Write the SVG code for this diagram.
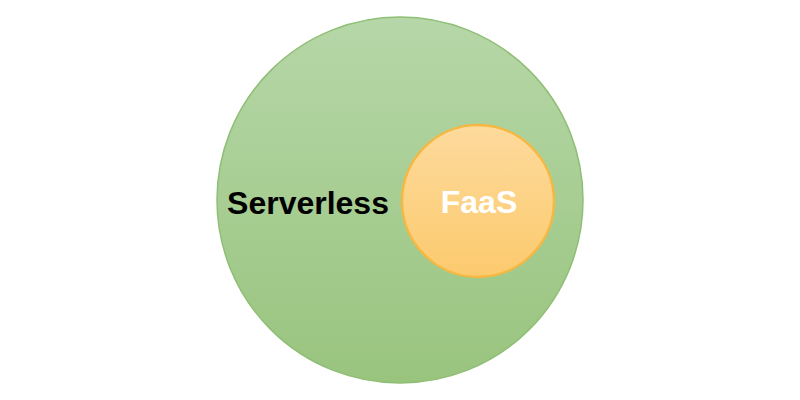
<svg xmlns="http://www.w3.org/2000/svg" width="800" height="400" viewBox="0 0 800 400">
<defs>
<linearGradient id="g" x1="0" y1="0" x2="0" y2="1"><stop offset="0" stop-color="#b6d7a8"/><stop offset="1" stop-color="#99c47e"/></linearGradient>
<linearGradient id="o" x1="0" y1="0" x2="0" y2="1"><stop offset="0" stop-color="#fdda9c"/><stop offset="1" stop-color="#fcca6e"/></linearGradient>
<style>text{font-family:"Liberation Sans",Arial,sans-serif;font-weight:bold;font-size:32px}</style>
</defs>
<rect width="800" height="400" fill="#fff"/>
<g id="serverless">
<circle cx="400" cy="200" r="183" fill="url(#g)" stroke="#8fbf75" stroke-width="1.5"/>
<text x="308" y="214" text-anchor="middle" fill="#000">Serverless</text>
</g>
<g id="faas">
<circle cx="478" cy="201" r="76" fill="url(#o)" stroke="#f5b843" stroke-width="2.5"/>
<text x="479" y="213" text-anchor="middle" fill="#fff">FaaS</text>
</g>
<g id="connectors"/>
</svg>
